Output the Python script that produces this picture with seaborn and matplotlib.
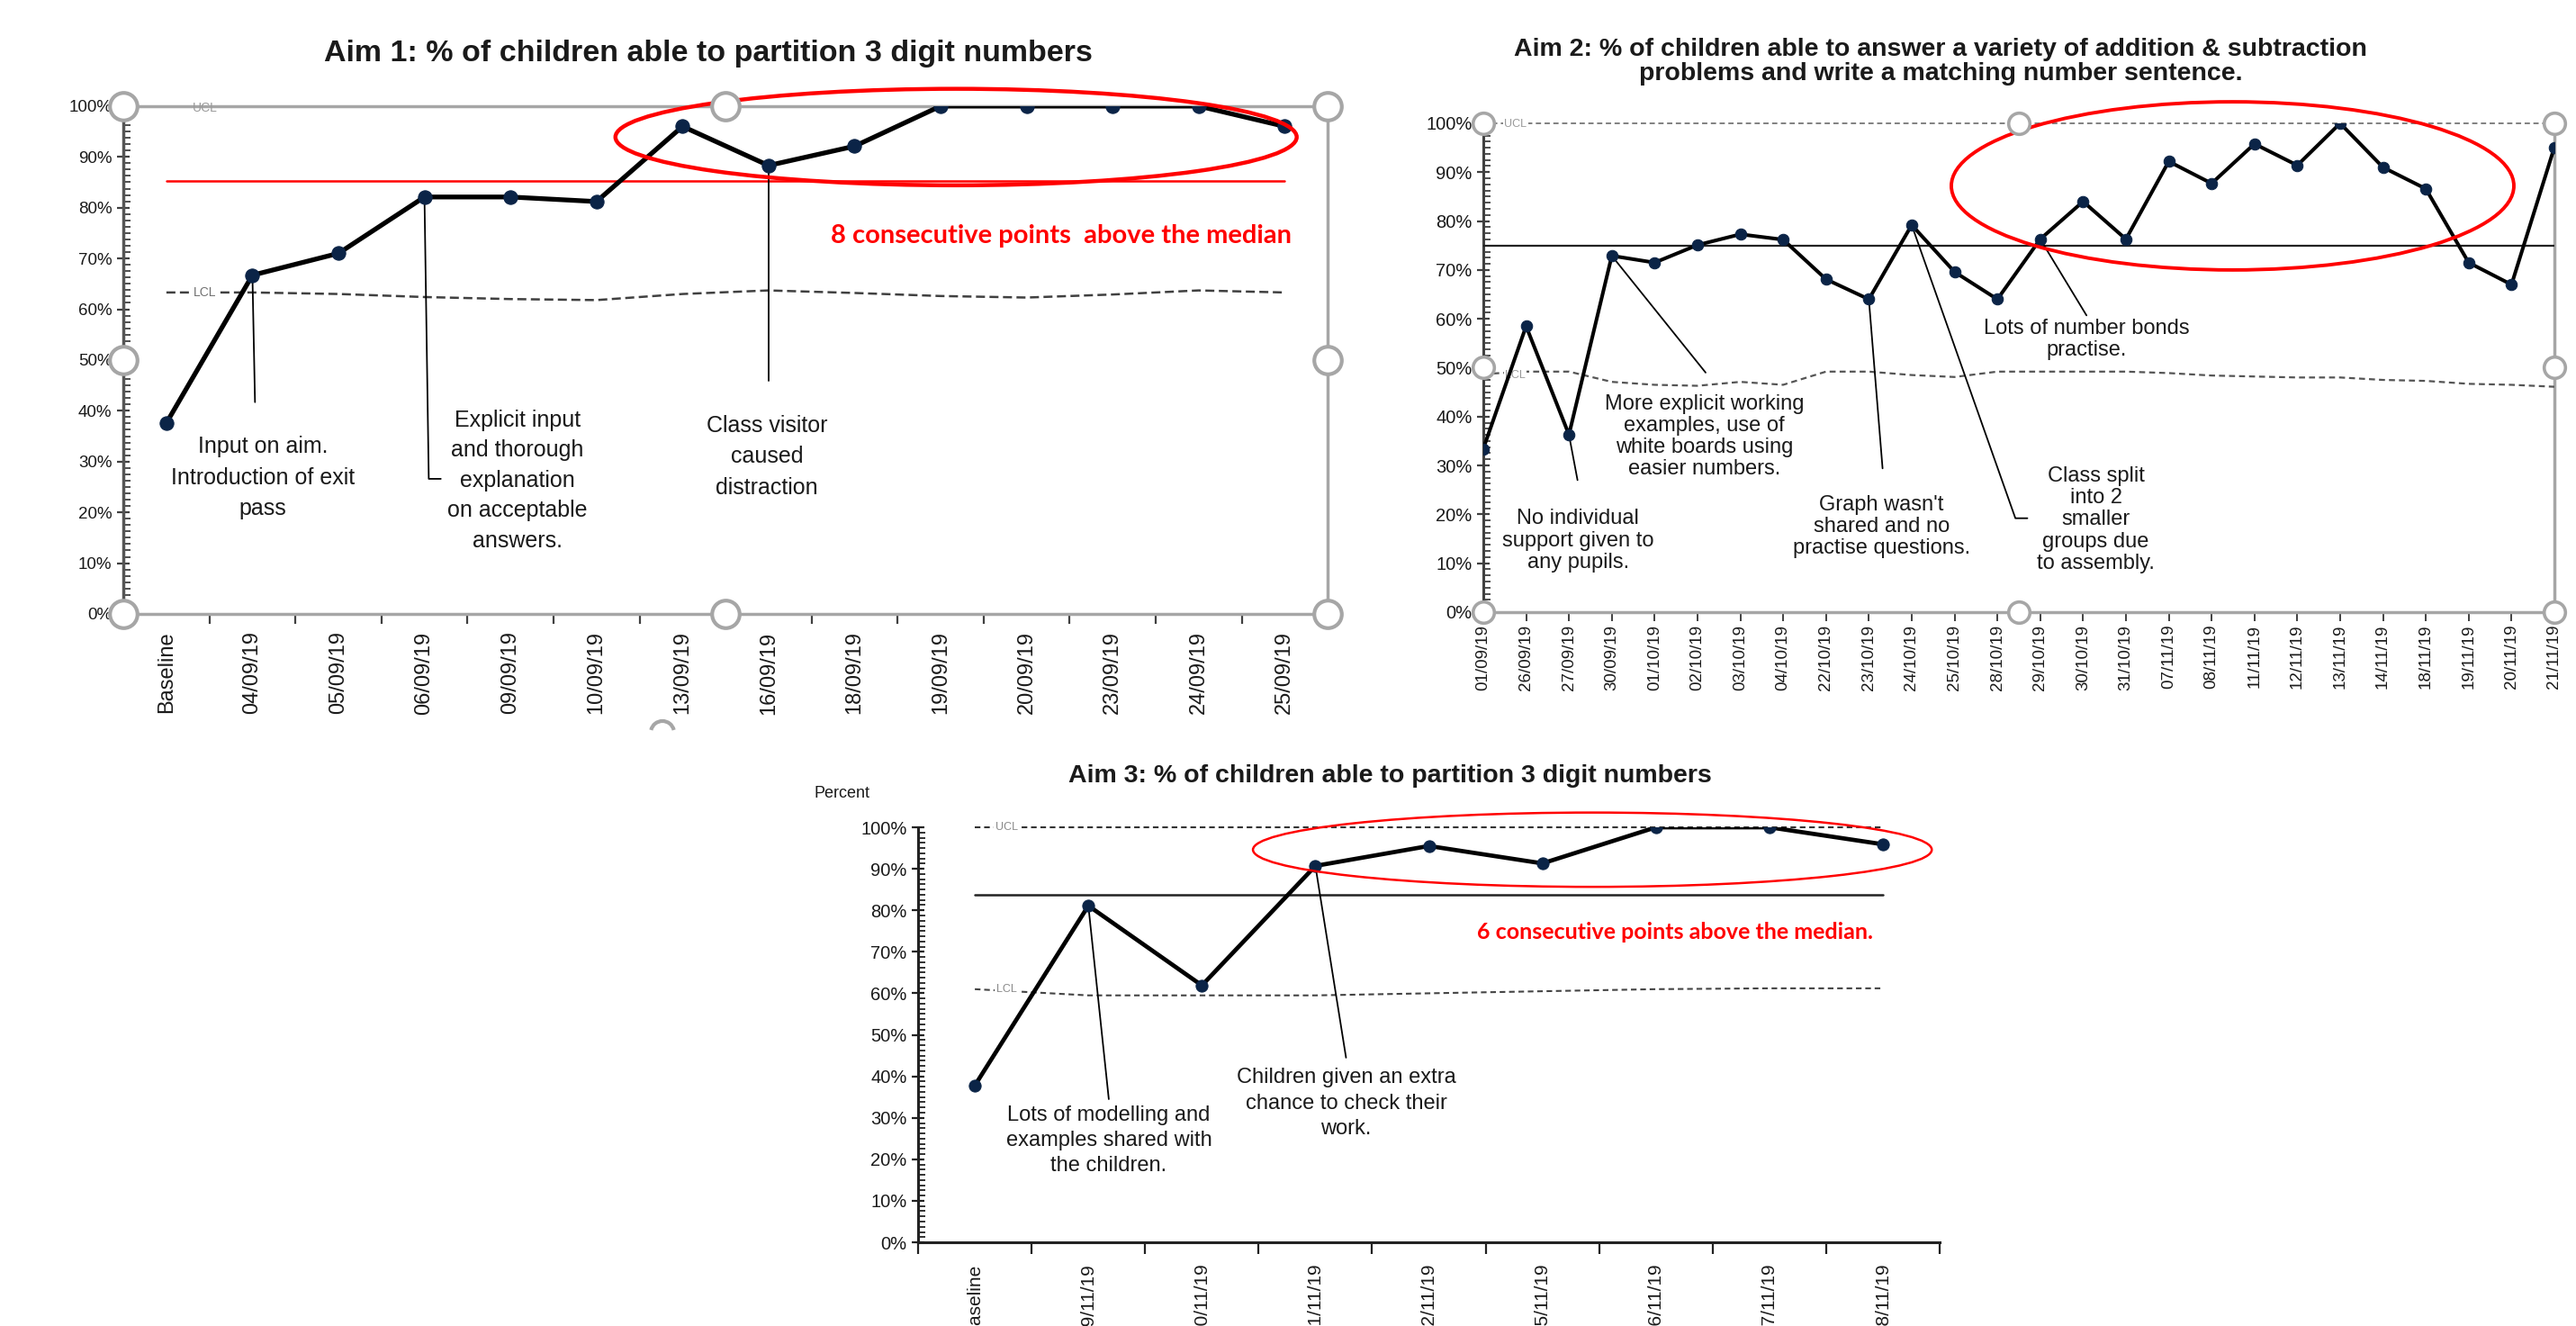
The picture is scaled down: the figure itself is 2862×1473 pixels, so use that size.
import numpy as np
import pandas as pd
import matplotlib
matplotlib.use("Agg")
import matplotlib.pyplot as plt
import seaborn as sns
from matplotlib.patches import Ellipse, Arc
from matplotlib.ticker import MultipleLocator, FuncFormatter

# ---------------- data ----------------
aim1_dates = ["Baseline", "04/09/19", "05/09/19", "06/09/19", "09/09/19", "10/09/19",
              "13/09/19", "16/09/19", "18/09/19", "19/09/19", "20/09/19", "23/09/19",
              "24/09/19", "25/09/19"]
aim1_pct = [37.6, 66.7, 71.0, 82.1, 82.1, 81.2, 96.0, 88.3, 92.1, 100, 100, 100, 100, 96.0]
aim1_median = 85.3
aim1_ucl = 100
aim1_lcl = [63.3, 63.3, 63.0, 62.4, 62.0, 61.8, 63.0, 63.7, 63.2, 62.6, 62.3, 62.9, 63.7, 63.3]

aim2_dates = ["01/09/19", "26/09/19", "27/09/19", "30/09/19", "01/10/19", "02/10/19",
              "03/10/19", "04/10/19", "22/10/19", "23/10/19", "24/10/19", "25/10/19",
              "28/10/19", "29/10/19", "30/10/19", "31/10/19", "07/11/19", "08/11/19",
              "11/11/19", "12/11/19", "13/11/19", "14/11/19", "18/11/19", "19/11/19",
              "20/11/19", "21/11/19"]
aim2_pct = [33.4, 58.5, 36.3, 72.9, 71.5, 75.1, 77.3, 76.2, 68.1, 64.0, 79.2, 69.6, 64.0,
            76.3, 84.0, 76.3, 92.2, 87.7, 95.8, 91.4, 100, 91.0, 86.6, 71.5, 67.0, 95.1]
aim2_median = 75.0
aim2_ucl = 100
aim2_lcl = [48.7, 49.2, 49.2, 47.1, 46.5, 46.3, 47.1, 46.5, 49.2, 49.2, 48.5, 48.1, 49.2,
            49.2, 49.2, 49.2, 48.9, 48.4, 48.2, 48.0, 48.0, 47.5, 47.3, 46.7, 46.5, 46.1]

aim3_dates = ["Baseline", "19/11/19", "20/11/19", "21/11/19", "22/11/19", "25/11/19",
              "26/11/19", "27/11/19", "28/11/19"]
aim3_pct = [37.8, 81.1, 61.9, 90.7, 95.5, 91.3, 100, 100, 95.9]
aim3_median = 83.8
aim3_ucl = 100
aim3_lcl = [61.0, 59.5, 59.5, 59.5, 60.0, 60.5, 61.0, 61.2, 61.2]

# ---------------- style ----------------
sns.set_style("white")
plt.rcParams["font.family"] = ["Liberation Sans", "DejaVu Sans"]
plt.rcParams["axes.unicode_minus"] = False

TXT = "#1a1a1a"
NAVY = "#0b2447"
FRAME = "#a6a6a6"
RED = "#ff0000"
CALLOUT = ["Lato", "DejaVu Sans"]

fig = plt.figure(figsize=(28.62, 14.73), dpi=100)
pct_fmt = FuncFormatter(lambda v, p: f"{v:.0f}%")


def run_chart(ax, dates, pct, lw, ms):
    df = pd.DataFrame({"pos": np.arange(len(dates)), "pct": pct})
    sns.lineplot(data=df, x="pos", y="pct", ax=ax, color="black", linewidth=lw,
                 marker="o", markersize=ms, markerfacecolor=NAVY,
                 markeredgecolor=NAVY, zorder=5)
    ax.set_xlabel("")
    ax.set_ylabel("")


def y_axis(ax, size, color):
    ax.set_ylim(0, 100)
    ax.yaxis.set_major_locator(MultipleLocator(10))
    ax.yaxis.set_minor_locator(MultipleLocator(1.25))
    ax.yaxis.set_major_formatter(pct_fmt)
    ax.tick_params(axis="y", which="major", direction="inout", length=10, width=1.6,
                   color=color, labelsize=size, labelcolor=TXT, pad=4, left=True)
    ax.tick_params(axis="y", which="minor", direction="in", length=6, width=1.3,
                   color=color, left=True)


def handles(ax, ms, mew):
    pts = [(0, 1), (0.5, 1), (1, 1), (0, 0.5), (1, 0.5), (0, 0), (0.5, 0), (1, 0)]
    for x, y in pts:
        ax.plot(x, y, marker="o", ms=ms, mfc="white", mec=FRAME, mew=mew,
                transform=ax.transAxes, clip_on=False, zorder=20)


def callout(ax, x0, y0, pts, text, tx, ty, size, ls):
    xs = [x0] + [p[0] for p in pts]
    ys = [y0] + [p[1] for p in pts]
    ax.plot(xs, ys, color="black", lw=1.3, zorder=4, clip_on=False)
    ax.text(tx, ty, text, ha="center", va="center", fontsize=size, color=TXT,
            linespacing=ls, zorder=6, clip_on=False)


# ================= Aim 1 =================
ax1 = fig.add_axes([0.0479, 0.537, 0.4675, 0.383])
run_chart(ax1, aim1_dates, aim1_pct, lw=3.8, ms=11)
n1 = len(aim1_dates)
ax1.set_xlim(-0.5, n1 - 0.5)
y_axis(ax1, 13.5, "#404040")
ax1.set_xticks(np.arange(n1))
ax1.set_xticklabels(aim1_dates, rotation=90, va="top", ha="center")
ax1.tick_params(axis="x", which="major", length=0, pad=14, labelsize=17, labelcolor=TXT)
ax1.set_xticks(np.arange(-0.5, n1), minor=True)
ax1.tick_params(axis="x", which="minor", direction="out", length=8, width=1.6,
                color="#404040", bottom=True)
for side in ["top", "right", "bottom"]:
    ax1.spines[side].set_color(FRAME)
    ax1.spines[side].set_linewidth(2.5)
ax1.spines["left"].set_color("#555555")
ax1.spines["left"].set_linewidth(2.5)

x1 = np.arange(n1)
ax1.plot([0, n1 - 1], [aim1_median, aim1_median], color=RED, lw=1.8, zorder=3)
ax1.plot(x1, aim1_lcl, color="#404040", lw=1.8, ls=(0, (4, 2)), zorder=3)
ax1.text(0.45, aim1_lcl[0], "LCL", fontsize=10, color="#707070", ha="center",
         va="center", zorder=4, bbox=dict(fc="white", ec="none", pad=1.5))
ax1.text(0.45, aim1_ucl - 0.3, "UCL", fontsize=10, color="#9a9a9a", ha="center",
         va="center", zorder=4, clip_on=False)

ax1.add_patch(Ellipse((9.18, 93.9), 7.92, 19.0, fill=False, ec=RED, lw=3.2,
                      clip_on=False, zorder=7))
ax1.text(10.4, 74.5, "8 consecutive points  above the median", color=RED,
         fontsize=21, fontweight="bold", family=CALLOUT, ha="center", va="center")

callout(ax1, 1, aim1_pct[1], [(1.03, 41.7)],
        "Input on aim.\nIntroduction of exit\npass", 1.12, 26.8, 18, 1.55)
callout(ax1, 3, aim1_pct[3], [(3.05, 26.6), (3.19, 26.6)],
        "Explicit input\nand thorough\nexplanation\non acceptable\nanswers.", 4.08, 26.3, 18, 1.5)
callout(ax1, 7, aim1_pct[7], [(7.0, 45.9)],
        "Class visitor\ncaused\ndistraction", 6.98, 31.0, 18, 1.55)
handles(ax1, 22, 3)

fig.text(0.275, 0.9595, "Aim 1: % of children able to partition 3 digit numbers",
         ha="center", va="center", fontsize=24.5, fontweight="bold", color=TXT)
fig.add_artist(Arc((736 / 2862, 1 - 814 / 1473), 26 / 2862, 26 / 1473, theta1=25,
                   theta2=155, transform=fig.transFigure, color=FRAME, lw=3))

# ================= Aim 2 =================
ax2 = fig.add_axes([0.5758, 0.5384, 0.4158, 0.3686])
run_chart(ax2, aim2_dates, aim2_pct, lw=2.9, ms=9)
n2 = len(aim2_dates)
ax2.set_xlim(0, n2 - 1)
y_axis(ax2, 14.5, "#404040")
ax2.set_xticks(np.arange(n2))
ax2.set_xticklabels(aim2_dates, rotation=90, va="top", ha="center")
ax2.tick_params(axis="x", which="major", direction="out", length=7, width=1.4,
                color="#404040", pad=3, labelsize=13.5, labelcolor=TXT, bottom=True)
ax2.spines["top"].set_visible(False)
for side in ["right", "bottom"]:
    ax2.spines[side].set_color(FRAME)
    ax2.spines[side].set_linewidth(2.5)
ax2.spines["left"].set_color("#404040")
ax2.spines["left"].set_linewidth(2.2)

x2 = np.arange(n2)
ax2.plot([0, n2 - 1], [aim2_median, aim2_median], color="#222222", lw=1.6, zorder=3)
ax2.plot([0, n2 - 1], [aim2_ucl, aim2_ucl], color="#808080", lw=1.4, ls=(0, (3, 2)),
         zorder=3, clip_on=False)
ax2.plot(x2, aim2_lcl, color="#555555", lw=1.6, ls=(0, (3, 2)), zorder=3)
ax2.text(0.75, aim2_ucl - 0.2, "UCL", fontsize=9, color="#9a9a9a", ha="center",
         va="center", zorder=4, clip_on=False, bbox=dict(fc="white", ec="none", pad=1))
ax2.text(0.75, 48.5, "LCL", fontsize=9, color="#9a9a9a", ha="center", va="center",
         zorder=4, bbox=dict(fc="white", ec="none", pad=1))

ax2.add_patch(Ellipse((17.49, 87.2), 13.13, 34.4, fill=False, ec=RED, lw=2.8,
                      clip_on=False, zorder=7))

callout(ax2, 2, aim2_pct[2], [(2.2, 27.0)],
        "No individual\nsupport given to\nany pupils.", 2.21, 14.6, 17, 1.13)
callout(ax2, 3, aim2_pct[3], [(5.19, 49.0)],
        "More explicit working\nexamples, use of\nwhite boards using\neasier numbers.",
        5.16, 35.9, 17, 1.13)
callout(ax2, 9, aim2_pct[9], [(9.32, 29.4)],
        "Graph wasn't\nshared and no\npractise questions.", 9.3, 17.5, 17, 1.13)
callout(ax2, 10, aim2_pct[10], [(12.42, 19.2), (12.7, 19.2)],
        "Class split\ninto 2\nsmaller\ngroups due\nto assembly.", 14.3, 18.9, 17, 1.13)
callout(ax2, 13, aim2_pct[13], [(14.08, 60.7)],
        "Lots of number bonds\npractise.", 14.08, 55.8, 17, 1.13)
handles(ax2, 17, 2.6)

fig.text(0.7533, 0.9538,
         "Aim 2: % of children able to answer a variety of addition & subtraction\n"
         "problems and write a matching number sentence.",
         ha="center", va="center", fontsize=20.5, fontweight="bold", color=TXT,
         linespacing=1.05)

# ================= Aim 3 =================
ax3 = fig.add_axes([0.3564, 0.0631, 0.3966, 0.313])
run_chart(ax3, aim3_dates, aim3_pct, lw=3.4, ms=9.5)
n3 = len(aim3_dates)
ax3.set_xlim(-0.5, n3 - 0.5)
y_axis(ax3, 14.5, "#222222")
ax3.set_xticks(np.arange(n3))
ax3.set_xticklabels(aim3_dates, rotation=90, va="top", ha="center")
ax3.tick_params(axis="x", which="major", length=0, pad=17, labelsize=15, labelcolor=TXT)
ax3.set_xticks(np.arange(-0.5, n3), minor=True)
ax3.tick_params(axis="x", which="minor", direction="out", length=9, width=1.6,
                color="#222222", bottom=True)
ax3.spines["top"].set_visible(False)
ax3.spines["right"].set_visible(False)
for side in ["left", "bottom"]:
    ax3.spines[side].set_color("#222222")
    ax3.spines[side].set_linewidth(2.2)

x3 = np.arange(n3)
ax3.plot([0, n3 - 1], [aim3_median, aim3_median], color="#222222", lw=1.8, zorder=3)
ax3.plot([0, n3 - 1], [aim3_ucl, aim3_ucl], color="#333333", lw=1.5, ls=(0, (3, 2)),
         zorder=3, clip_on=False)
ax3.plot(x3, aim3_lcl, color="#444444", lw=1.5, ls=(0, (3, 2)), zorder=3)
ax3.text(0.28, aim3_ucl, "UCL", fontsize=9, color="#8a8a8a", ha="center", va="center",
         zorder=4, clip_on=False, bbox=dict(fc="white", ec="none", pad=1.5))
ax3.text(0.28, aim3_lcl[0], "LCL", fontsize=9, color="#8a8a8a", ha="center",
         va="center", zorder=4, bbox=dict(fc="white", ec="none", pad=1.5))

ax3.add_patch(Ellipse((5.44, 94.6), 5.98, 17.9, fill=False, ec=RED, lw=1.8,
                      clip_on=False, zorder=7))
ax3.text(6.17, 74.8, "6 consecutive points above the median.", color=RED,
         fontsize=18, fontweight="bold", family=CALLOUT, ha="center", va="center")

callout(ax3, 1, aim3_pct[1], [(1.18, 34.5)],
        "Lots of modelling and\nexamples shared with\nthe children.", 1.18, 24.5, 17, 1.36)
callout(ax3, 3, aim3_pct[3], [(3.27, 44.5)],
        "Children given an extra\nchance to check their\nwork.", 3.27, 33.5, 17, 1.36)

fig.text(0.5395, 0.4148, "Aim 3: % of children able to partition 3 digit numbers",
         ha="center", va="center", fontsize=20.5, fontweight="bold", color=TXT)
fig.text(0.3267, 0.4016, "Percent", ha="center", va="center", fontsize=13, color=TXT)

fig.savefig("out.png", dpi=100, facecolor="white")
